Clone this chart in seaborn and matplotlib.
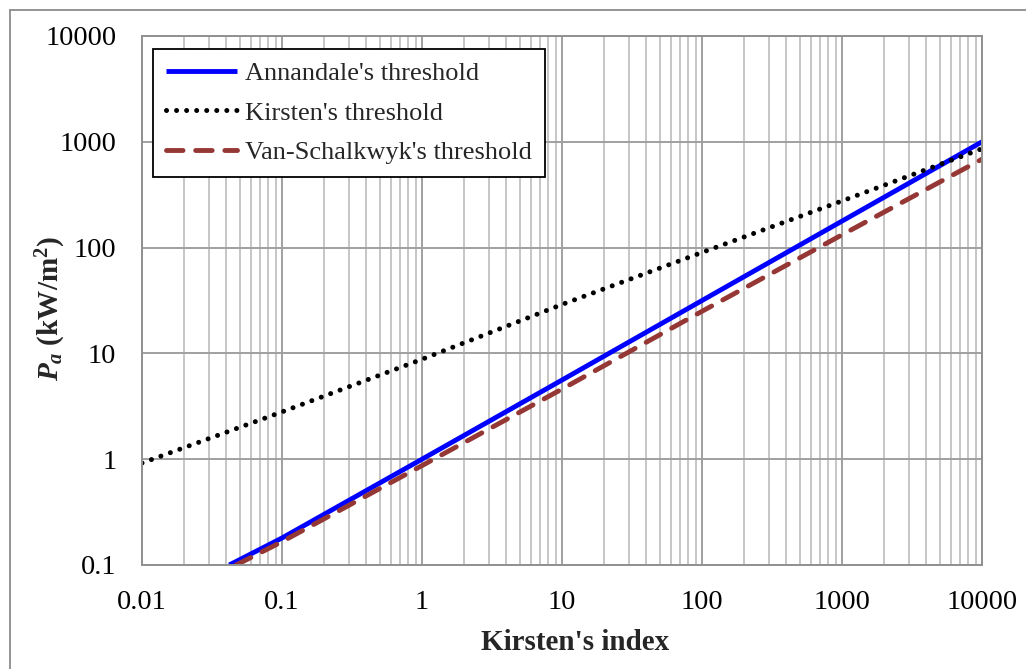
import numpy as np
import pandas as pd
import matplotlib
matplotlib.use("Agg")
import matplotlib.pyplot as plt
import matplotlib.ticker as mticker
from matplotlib.lines import Line2D
import seaborn as sns

# Threshold curves: Kirsten's index vs. stream power P_a (kW/m^2)
annandale_k = [0.042, 0.1, 1, 10, 100, 1000, 10000]
annandale_p = [0.1, 0.18, 1.0, 5.6, 31.6, 178, 1000]

kirsten_k = [0.01, 0.1, 1, 10, 100, 1000, 10000]
kirsten_p = [0.92, 2.8, 8.8, 29, 90, 276, 860]

vanschalkwyk_k = [0.047, 0.1, 1, 10, 100, 1000, 10000]
vanschalkwyk_p = [0.1, 0.166, 0.87, 4.6, 25, 132, 685]

x_ticks = [0.01, 0.1, 1, 10, 100, 1000, 10000]
x_tick_labels = ["0.01", "0.1", "1", "10", "100", "1000", "10000"]
y_ticks = [0.1, 1, 10, 100, 1000, 10000]
y_tick_labels = ["0.1", "1", "10", "100", "1000", "10000"]

sns.set_theme(style="white")
plt.rcParams["font.family"] = ["Liberation Serif", "DejaVu Serif"]
plt.rcParams["mathtext.fontset"] = "custom"
plt.rcParams["mathtext.rm"] = "Liberation Serif:bold"
plt.rcParams["mathtext.it"] = "Liberation Serif:italic:bold"
plt.rcParams["mathtext.bf"] = "Liberation Serif:bold"

fig = plt.figure(figsize=(10.26, 6.69), dpi=100)
W, H = 1026, 669
ax = fig.add_axes([142 / W, 1 - 565 / H, 840 / W, 529 / H])

grid_major = "#a0a0a0"
grid_minor = "#c6c6c6"

ax.set_xscale("log")
ax.set_yscale("log")
ax.set_xlim(0.01, 10000)
ax.set_ylim(0.1, 10000)

ax.xaxis.set_major_locator(mticker.FixedLocator(x_ticks))
ax.xaxis.set_major_formatter(mticker.FixedFormatter(x_tick_labels))
ax.xaxis.set_minor_locator(mticker.LogLocator(base=10, subs=np.arange(2, 10), numticks=20))
ax.xaxis.set_minor_formatter(mticker.NullFormatter())
ax.yaxis.set_major_locator(mticker.FixedLocator(y_ticks))
ax.yaxis.set_major_formatter(mticker.FixedFormatter(y_tick_labels))
ax.yaxis.set_minor_locator(mticker.NullLocator())

ax.grid(True, which="major", axis="both", color=grid_major, lw=1.4)
ax.grid(True, which="minor", axis="x", color=grid_minor, lw=1.4)
ax.set_axisbelow(True)

ax.tick_params(which="major", direction="out", length=6.5, width=1.1,
               color="#909090", labelsize=20.5, labelcolor="black")
ax.tick_params(which="minor", length=0)
ax.tick_params(axis="y", pad=12)
ax.tick_params(axis="x", pad=11.5)
for s in ax.spines.values():
    s.set_color("#909090")
    s.set_linewidth(1.4)

df_a = pd.DataFrame({"k": annandale_k, "p": annandale_p})
df_k = pd.DataFrame({"k": kirsten_k, "p": kirsten_p})
df_v = pd.DataFrame({"k": vanschalkwyk_k, "p": vanschalkwyk_p})

sns.lineplot(data=df_a, x="k", y="p", ax=ax, color="#0000ff", lw=3.5,
             label="Annandale's threshold", solid_capstyle="butt")
sns.lineplot(data=df_k, x="k", y="p", ax=ax, color="black", lw=3.6,
             label="Kirsten's threshold", dashes=False,
             linestyle=(0, (0.01, 2.0)), dash_capstyle="round")
sns.lineplot(data=df_v, x="k", y="p", ax=ax, color="#953735", lw=3.5,
             label="Van-Schalkwyk's threshold",
             linestyle=(0, (3.4, 2.6)), dash_capstyle="round")

ax.set_xlabel("Kirsten's index", fontsize=21, fontweight="bold")
ax.xaxis.set_label_coords(0.515, -0.121)
ax.set_ylabel(r"$P_a$ (kW/m$^2$)", fontsize=21, fontweight="bold")
ax.yaxis.set_label_coords(-0.088, 0.484)

leg = ax.legend(loc="upper left", bbox_to_anchor=(0.013, 0.976), borderaxespad=0,
                fontsize=19, frameon=True, fancybox=False, edgecolor="black",
                framealpha=1, handlelength=2.7, handletextpad=0.3,
                labelspacing=0.6, borderpad=0.5)
leg.get_frame().set_linewidth(1.3)

# outer chart border
border = "#8c8c8c"
fig.add_artist(Line2D([10 / W, 10 / W], [0, 1 - 10 / H], color=border, lw=1.3))
fig.add_artist(Line2D([10 / W, 1], [1 - 10 / H, 1 - 10 / H], color=border, lw=1.3))

fig.savefig("out.png", dpi=100)
